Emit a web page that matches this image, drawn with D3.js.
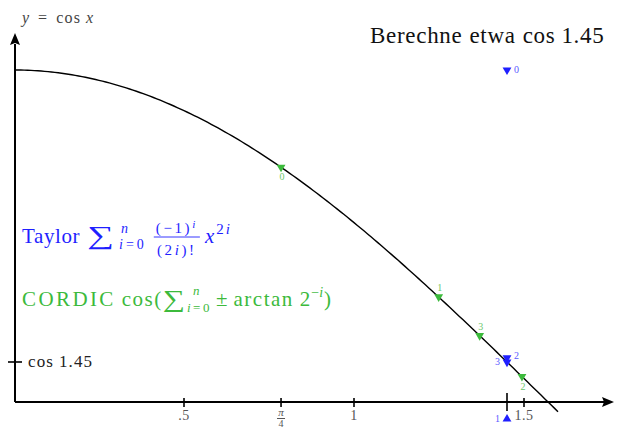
<!DOCTYPE html>
<html>
<head>
<meta charset="utf-8">
<script src="https://cdn.jsdelivr.net/npm/d3@7"></script>
<style>
  html, body { margin: 0; padding: 0; background: #fff; }
  svg { display: block; }
  text { font-family: "Liberation Serif", "DejaVu Serif", serif; }
</style>
</head>
<body>
<svg id="chart" width="620" height="428"></svg>
<script>
// ---- data ----
const curveDomain = [0, 1.6];              // x-range of y = cos x
const target = 1.45;                        // the argument we approximate
const targetCos = 0.1205;                   // cos 1.45
const xTicks = [0.5, Math.PI / 4, 1, 1.5];
const xTickLabels = [".5", "π/4", "1", "1.5"];

// Taylor partial sums at x = 1.45, n = 0..3
const taylorN = [0, 1, 2, 3];
const taylorValues = [1.0, -0.0513, 0.1329, 0.1200];

// CORDIC iterations: accumulated angle and its cosine, n = 0..3
const cordicN = [0, 1, 2, 3];
const cordicAngles = [0.7854, 1.2490, 1.4940, 1.3696];
const cordicValues = [0.7071, 0.3167, 0.0768, 0.1999];

// ---- styles ----
const BLUE = "#1f1fff";
const GREEN = "#3cba3c";
const taylorLabelSide = ["right", "left", "right", "left"];
const cordicLabelSide = ["below", "above", "below", "above"];

const svg = d3.select("#chart");
const x = d3.scaleLinear().domain([0, 1]).range([14, 354]);
const y = d3.scaleLinear().domain([0, 1]).range([402, 70]);

// ---- axes ----
const axisY0 = y(0), axisX0 = x(0) + 1;
svg.append("line").attr("x1", axisX0).attr("x2", 604).attr("y1", axisY0).attr("y2", axisY0)
  .attr("stroke", "#000").attr("stroke-width", 2);
svg.append("path").attr("d", `M614,${axisY0} L602,${axisY0 - 5} L604,${axisY0} L602,${axisY0 + 5} Z`).attr("fill", "#000");
svg.append("line").attr("x1", axisX0).attr("x2", axisX0).attr("y1", axisY0).attr("y2", 44)
  .attr("stroke", "#000").attr("stroke-width", 2);
svg.append("path").attr("d", `M${axisX0},33 L${axisX0 - 5},45 L${axisX0},43 L${axisX0 + 5},45 Z`).attr("fill", "#000");

// x ticks
xTicks.forEach(t => {
  svg.append("line").attr("x1", x(t)).attr("x2", x(t)).attr("y1", axisY0 - 4).attr("y2", axisY0 + 5)
    .attr("stroke", "#000").attr("stroke-width", 1.6);
});
svg.append("line").attr("x1", x(target)).attr("x2", x(target)).attr("y1", axisY0 - 9).attr("y2", axisY0 + 9)
  .attr("stroke", "#000").attr("stroke-width", 1.6);

const tickColor = "#555";
xTickLabels.forEach((lab, i) => {
  const tx = x(xTicks[i]);
  if (lab === "π/4") {
    svg.append("text").attr("x", tx).attr("y", axisY0 + 14).attr("text-anchor", "middle")
      .attr("font-size", 11).attr("font-style", "italic").attr("fill", tickColor).text("π");
    svg.append("line").attr("x1", tx - 4).attr("x2", tx + 4).attr("y1", axisY0 + 16.5).attr("y2", axisY0 + 16.5)
      .attr("stroke", tickColor).attr("stroke-width", 1);
    svg.append("text").attr("x", tx).attr("y", axisY0 + 25).attr("text-anchor", "middle")
      .attr("font-size", 10).attr("fill", tickColor).text("4");
  } else {
    svg.append("text").attr("x", tx).attr("y", axisY0 + 18).attr("text-anchor", "middle")
      .attr("font-size", 14).attr("letter-spacing", 0.5).attr("fill", tickColor).text(lab);
  }
});

// y tick at cos 1.45
svg.append("line").attr("x1", axisX0 - 7).attr("x2", axisX0 + 7).attr("y1", y(targetCos)).attr("y2", y(targetCos))
  .attr("stroke", "#000").attr("stroke-width", 1.6);

// lays out a run of text pieces left to right, returns the end x
function run(g, x0, base, parts, color, ls) {
  let cx = x0;
  parts.forEach(p => {
    if (p.stack) {
      const w = p.stack.map(s => {
        const t = g.append("text").attr("x", cx + (s.dx || 0)).attr("y", base + s.dy).attr("font-size", s.size)
          .attr("letter-spacing", s.ls || 0).attr("fill", color);
        s.pieces.forEach(q => t.append("tspan").attr("font-style", q.it ? "italic" : null).text(q.t));
        return t.node().getComputedTextLength() + (s.dx || 0);
      });
      cx += Math.max(...w) + (p.gap || 0);
    } else if (p.frac) {
      const tn = g.append("text").attr("font-size", p.size).attr("fill", color).attr("text-anchor", "middle")
        .attr("letter-spacing", p.ls || 0);
      p.frac[0].forEach(q => tn.append("tspan").attr("font-style", q.it ? "italic" : null)
        .attr("font-size", q.sup ? p.size * 0.75 : null).attr("dy", q.dy || null).text(q.t));
      const td = g.append("text").attr("font-size", p.size).attr("fill", color).attr("text-anchor", "middle")
        .attr("letter-spacing", p.ls || 0);
      p.frac[1].forEach(q => td.append("tspan").attr("font-style", q.it ? "italic" : null).text(q.t));
      const w = Math.max(tn.node().getComputedTextLength(), td.node().getComputedTextLength()) + 4;
      const mid = cx + 2 + w / 2;
      tn.attr("x", mid).attr("y", base - 10);
      td.attr("x", mid).attr("y", base + 12);
      g.append("line").attr("x1", cx + 2).attr("x2", cx + 2 + w).attr("y1", base - 6).attr("y2", base - 6)
        .attr("stroke", color).attr("stroke-width", 0.9);
      cx += w + (p.gap || 5);
    } else {
      const t = g.append("text").attr("x", 0).attr("y", 0).attr("font-size", p.size)
        .attr("letter-spacing", p.ls != null ? p.ls : (ls || 0))
        .attr("font-style", p.it ? "italic" : null).attr("fill", color).text(p.t);
      const sx = p.sx || 1;
      t.attr("transform", `translate(${cx},${base + (p.dy || 0)}) scale(${sx},1)`);
      cx += t.node().getComputedTextLength() * sx + (p.gap || 0);
    }
  });
  return cx;
}

// cos 1.45 label
run(svg, 28, y(targetCos) + 5, [
  { t: "cos", size: 17, ls: 1.1, gap: 5 },
  { t: "1.45", size: 17, ls: 1.1 }
], "#222");

// axis label y = cos x
run(svg, 22, 23, [
  { t: "y", size: 16, it: true, gap: 9 },
  { t: "=", size: 16, gap: 9 },
  { t: "cos", size: 16, ls: 1.2, gap: 5 },
  { t: "x", size: 16, it: true }
], "#444");

// title
run(svg, 370, 43, [
  { t: "Berechne", size: 23, ls: 0.7, gap: 7 },
  { t: "etwa", size: 23, ls: 0.7, gap: 7 },
  { t: "cos", size: 23, ls: 0.7, gap: 6 },
  { t: "1.45", size: 23, ls: 0.7 }
], "#111");

// ---- curve ----
const xs = d3.range(0, 161).map(i => curveDomain[0] + (curveDomain[1] - curveDomain[0]) * i / 160);
svg.append("path")
  .datum(xs)
  .attr("d", d3.line().x(d => x(d)).y(d => y(Math.cos(d))))
  .attr("fill", "none").attr("stroke", "#000").attr("stroke-width", 1.4);

// ---- markers ----
const tri = d3.symbol().type(d3.symbolTriangle).size(34);
function marker(px, py, color, up) {
  svg.append("path").attr("d", tri())
    .attr("transform", `translate(${px},${py}) rotate(${up ? 0 : 180})`)
    .attr("fill", color);
}

taylorValues.forEach((v, i) => {
  const px = x(target), py = y(v);
  marker(px, py, BLUE, v < 0);
  const side = taylorLabelSide[i];
  svg.append("text")
    .attr("x", side === "right" ? px + 7 : px - 7)
    .attr("y", py + 3 - (i === 2 ? 2 : 0))
    .attr("text-anchor", side === "right" ? "start" : "end")
    .attr("font-size", 10).attr("fill", "#5a5aff").text(taylorN[i]);
});

cordicValues.forEach((v, i) => {
  const px = x(cordicAngles[i]), py = y(v);
  marker(px, py, GREEN, false);
  const side = cordicLabelSide[i];
  svg.append("text")
    .attr("x", px + 1).attr("y", side === "below" ? py + 13 : py - 6)
    .attr("text-anchor", "middle")
    .attr("font-size", 10).attr("fill", "#6cc86c").text(cordicN[i]);
});

// ---- legend formulas ----
const leg = svg.append("g");
run(leg, 22, 243, [
  { t: "Taylor", size: 21, ls: 0.6, gap: 7 },
  { t: "∑", size: 26, sx: 1.45, gap: 5, dy: 1 },
  { stack: [
      { dy: -10, dx: 2, size: 14, pieces: [{ t: "n", it: true }] },
      { dy: 6, size: 14, ls: 3, pieces: [{ t: "i", it: true }, { t: "=0" }] }
    ], gap: 5 },
  { frac: [[{ t: "(−1)" }, { t: "i", it: true, sup: true, dy: -5 }], [{ t: "(2" }, { t: "i", it: true }, { t: ")!" }]], size: 15, ls: 2.6, gap: 7 },
  { t: "x", size: 21, it: true, gap: 2 },
  { t: "2", size: 15, dy: -9, ls: 2 },
  { t: "i", size: 15, dy: -9, it: true }
], BLUE);

run(leg, 22, 306, [
  { t: "CORDIC", size: 21, ls: 2.4, gap: 6 },
  { t: "cos(", size: 21, ls: 1.5 },
  { t: "∑", size: 24, sx: 1.3, gap: 2, dy: 1 },
  { stack: [
      { dy: -11, dx: 6, size: 13, pieces: [{ t: "n", it: true }] },
      { dy: 6, size: 13, ls: 2.5, pieces: [{ t: "i", it: true }, { t: "=0" }] }
    ], gap: 4 },
  { t: "±", size: 21, gap: 6 },
  { t: "arctan", size: 21, ls: 1.5, gap: 6 },
  { t: "2", size: 21, gap: 1 },
  { t: "−", size: 14, dy: -9 },
  { t: "i", size: 14, dy: -9, it: true, gap: 1 },
  { t: ")", size: 21 }
], GREEN);
</script>
</body>
</html>
